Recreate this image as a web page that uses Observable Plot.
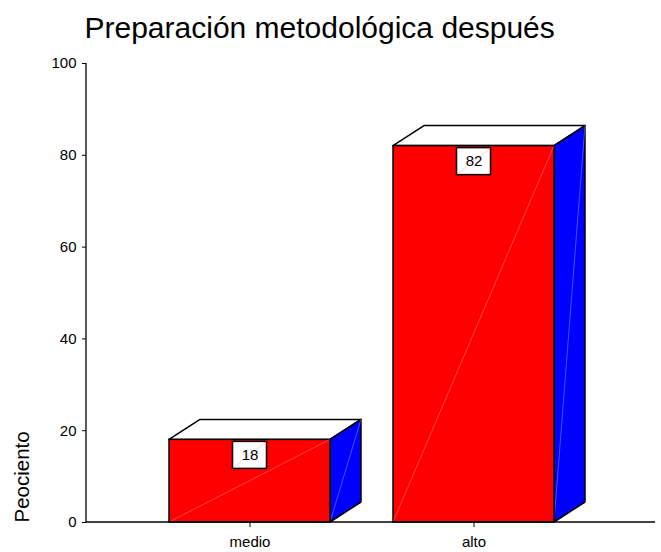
<!DOCTYPE html>
<html>
<head>
<meta charset="utf-8">
<script src="https://cdn.jsdelivr.net/npm/d3@7"></script>
<script src="https://cdn.jsdelivr.net/npm/@observablehq/plot@0.6"></script>
<style>
  html, body { margin: 0; padding: 0; background: #fff; }
  #chart svg { display: block; }
</style>
</head>
<body>
<div id="chart"></div>
<script>
const categories = ["medio", "alto"];
const values = [18, 82];
const yTicks = [0, 20, 40, 60, 80, 100];
const title = "Preparación metodológica después";
const yLabel = "Peociento";

const data = categories.map((c, i) => ({cat: c, value: values[i]}));

const DX = 31, DY = -20;
const FONT = "'Liberation Sans', Arial, Helvetica, sans-serif";

function bw(s) { return typeof s.bandwidth === "function" ? s.bandwidth() : s.bandwidth; }

// top and side faces of each 3-D bar
function faces(index, scales) {
  const g = d3.create("svg:g");
  const w = bw(scales.x);
  for (const i of index) {
    const d = data[i];
    const x0 = scales.x(d.cat), x1 = x0 + w;
    const yb = scales.y(0), yt = scales.y(d.value);
    g.append("polygon")
      .attr("points", [[x0, yt], [x0 + DX, yt + DY], [x1 + DX, yt + DY], [x1, yt]].join(" "))
      .attr("fill", "white").attr("stroke", "black").attr("stroke-width", 1.5).attr("stroke-linejoin", "round");
    g.append("polygon")
      .attr("points", [[x1, yb], [x1, yt], [x1 + DX, yt + DY], [x1 + DX, yb + DY]].join(" "))
      .attr("fill", "#0000ff").attr("stroke", "black").attr("stroke-width", 1.5).attr("stroke-linejoin", "round");
    g.append("line")
      .attr("x1", x1).attr("y1", yb).attr("x2", x1 + DX).attr("y2", yt + DY)
      .attr("stroke", "white").attr("stroke-opacity", 0.5).attr("stroke-width", 0.6);
  }
  return g.node();
}

// faint diagonals on the front faces and the value boxes
function decorations(index, scales) {
  const g = d3.create("svg:g");
  const w = bw(scales.x);
  for (const i of index) {
    const d = data[i];
    const x0 = scales.x(d.cat), x1 = x0 + w, xc = x0 + w / 2;
    const yb = scales.y(0), yt = scales.y(d.value);
    g.append("line")
      .attr("x1", x0).attr("y1", yb).attr("x2", x1).attr("y2", yt)
      .attr("stroke", "white").attr("stroke-opacity", 0.45).attr("stroke-width", 0.6);
    const bx = xc - 17, by = yt + 2, bwid = 34, bh = 27;
    g.append("rect")
      .attr("x", bx).attr("y", by).attr("width", bwid).attr("height", bh)
      .attr("fill", "white").attr("stroke", "black").attr("stroke-width", 1.5);
    g.append("line")
      .attr("x1", bx).attr("y1", by + bh).attr("x2", bx + bwid).attr("y2", by)
      .attr("stroke", "#ff8080").attr("stroke-opacity", 0.6).attr("stroke-width", 0.6);
  }
  return g.node();
}

function axisLines(index, scales, values, dims) {
  const g = d3.create("svg:g").attr("stroke", "black").attr("stroke-width", 1.3);
  const xl = dims.marginLeft;
  g.append("line").attr("x1", xl).attr("x2", dims.width - dims.marginRight)
    .attr("y1", scales.y(0)).attr("y2", scales.y(0));
  g.append("line").attr("x1", xl).attr("x2", xl)
    .attr("y1", scales.y(100)).attr("y2", scales.y(0));
  return g.node();
}

const chart = Plot.plot({
  width: 661,
  height: 552,
  marginLeft: 86,
  marginRight: 6,
  marginTop: 63,
  marginBottom: 30,
  style: {fontFamily: FONT, fontSize: "15px", color: "black", background: "white"},
  x: {
    domain: categories,
    paddingInner: 0.28,
    paddingOuter: 0.41,
    align: 0.453,
    label: null
  },
  y: {
    domain: [0, 100],
    label: null
  },
  marks: [
    Plot.axisX({tickSize: 5, tickPadding: 9, fontSize: 15, label: null}),
    Plot.axisY({ticks: yTicks, tickSize: 4, tickPadding: 6, fontSize: 15, tickFormat: d => String(d), label: null}),
    Plot.barY(data, {x: "cat", y: "value", render: faces}),
    Plot.barY(data, {x: "cat", y: "value", fill: "#ff0000", stroke: "black", strokeWidth: 1.5, inset: 0}),
    Plot.barY(data, {x: "cat", y: "value", render: decorations}),
    Plot.text(data, {x: "cat", y: "value", text: d => String(d.value), dy: 15, fontSize: 15, fill: "black"}),
    Plot.ruleY([0], {render: axisLines}),
    Plot.text([title], {frameAnchor: "top-left", textAnchor: "start", lineAnchor: "bottom", dx: -2, dy: -26, fontSize: 30, fill: "black"}),
    Plot.text([yLabel], {frameAnchor: "bottom-left", textAnchor: "start", lineAnchor: "bottom", rotate: -90, dx: -58, dy: 0, fontSize: 20.5, fill: "black"})
  ]
});

document.getElementById("chart").appendChild(chart);
</script>
</body>
</html>
